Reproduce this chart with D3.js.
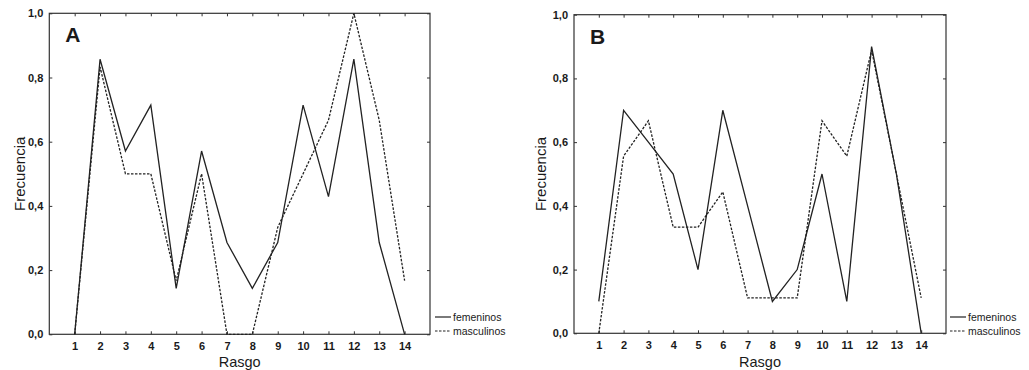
<!DOCTYPE html>
<html><head><meta charset="utf-8">
<script src="https://cdn.jsdelivr.net/npm/d3@7"></script>
<style>body{margin:0;background:#fff}svg{display:block}text{font-family:"Liberation Sans",Arial,sans-serif;fill:#1a1a1a}</style>
</head><body><svg id="c" width="1029" height="370"></svg>
<script>
const rasgo = [1,2,3,4,5,6,7,8,9,10,11,12,13,14];
const yTicks = [0,0.2,0.4,0.6,0.8,1.0];
const seriesNames = ["femeninos","masculinos"];
const femA = [0,0.857,0.571,0.714,0.143,0.571,0.286,0.143,0.286,0.714,0.429,0.857,0.286,0];
const mascA = [0,0.833,0.5,0.5,0.167,0.5,0,0,0.333,0.5,0.667,1.0,0.667,0.167];
const femB = [0.1,0.7,0.6,0.5,0.2,0.7,0.4,0.1,0.2,0.5,0.1,0.9,0.5,0];
const mascB = [0,0.556,0.667,0.333,0.333,0.444,0.111,0.111,0.111,0.667,0.556,0.889,0.5,0.111];

const svg = d3.select("#c");
const fmt = d => d3.format(".1f")(d).replace(".", ",");

function panel(letter, fem, masc, L, R, T, B, lx, ylabX) {
  const x = d3.scaleLinear().domain([0,15]).range([L,R]);
  const y = d3.scaleLinear().domain([0,1]).range([B,T]);
  const g = svg.append("g");
  const col = "#222";
  g.append("rect").attr("x",L).attr("y",T).attr("width",R-L).attr("height",B-T)
    .attr("fill","none").attr("stroke","#333").attr("stroke-width",1.2);
  const ax = g.append("g").attr("transform",`translate(0,${B})`)
    .call(d3.axisBottom(x).tickValues(rasgo).tickSize(-3).tickPadding(8).tickFormat(d3.format("d")));
  const axT = g.append("g").attr("transform",`translate(0,${T})`)
    .call(d3.axisTop(x).tickValues(rasgo).tickSize(-3).tickFormat(""));
  const ay = g.append("g").attr("transform",`translate(${L},0)`)
    .call(d3.axisLeft(y).tickValues(yTicks).tickSize(-3).tickPadding(6).tickFormat(fmt));
  const ayR = g.append("g").attr("transform",`translate(${R},0)`)
    .call(d3.axisRight(y).tickValues(yTicks).tickSize(-3).tickFormat(""));
  [ax,axT,ay,ayR].forEach(a=>{a.select(".domain").remove();a.selectAll("line").attr("stroke","#333");
    a.selectAll("text").attr("font-size",11).attr("font-weight","bold").attr("fill","#1a1a1a").attr("font-family","Liberation Sans, Arial, sans-serif");});
  const line = d3.line().x((d,i)=>x(rasgo[i])).y(d=>y(d));
  g.append("path").datum(fem).attr("d",line).attr("fill","none").attr("stroke",col).attr("stroke-width",1.3);
  g.append("path").datum(masc).attr("d",line).attr("fill","none").attr("stroke",col).attr("stroke-width",1.3).attr("stroke-dasharray","2.5,1.5");
  g.append("text").attr("x",L+16).attr("y",T+29).attr("font-size",21).attr("font-weight","bold").text(letter);
  g.append("text").attr("x",(L+R)/2).attr("y",366.5).attr("text-anchor","middle").attr("font-size",14.5).text("Rasgo");
  g.append("text").attr("transform",`translate(${ylabX},${(T+B)/2}) rotate(-90)`).attr("text-anchor","middle").attr("font-size",15).text("Frecuencia");
  const leg = [[317, null],[331, "2.5,1.5"]];
  leg.forEach((l,i)=>{
    g.append("line").attr("x1",lx).attr("x2",lx+16).attr("y1",l[0]).attr("y2",l[0]).attr("stroke",col).attr("stroke-width",1.2).attr("stroke-dasharray",l[1]);
    g.append("text").attr("x",lx+18).attr("y",l[0]+3.5).attr("font-size",10.5).text(seriesNames[i]);
  });
}
panel("A", femA, mascA, 49.3, 430, 13.3, 334.3, 435, 25);
panel("B", femB, mascB, 574, 946, 14.7, 333.3, 950, 546);
</script></body></html>
